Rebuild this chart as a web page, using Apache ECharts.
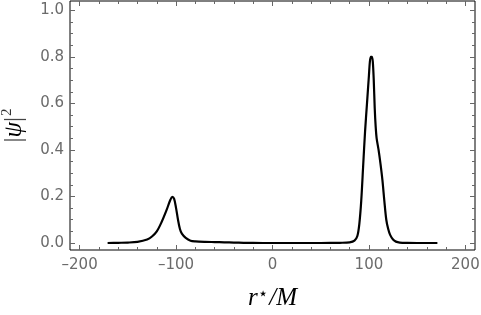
<!DOCTYPE html>
<html>
<head>
<meta charset="utf-8">
<script src="https://cdn.jsdelivr.net/npm/echarts@6/dist/echarts.min.js"></script>
<style>
  html, body { margin: 0; padding: 0; background: #fff; }
  #main { width: 481px; height: 315px; }
</style>
</head>
<body>
<div id="main"></div>
<script>
// tortoise coordinate r*/M
const rStar = [
  -171, -160, -150, -140, -130, -125, -120, -115, -110, -106, -104, -102,
  -100, -98, -96, -94, -90, -85, -80, -70, -60, -50, -40, -30, -20, 0,
  20, 40, 60, 70, 80, 85, 88, 90, 92, 94, 96, 98, 100, 101, 102, 103,
  104, 105, 106, 107, 108, 110, 112, 114, 116, 118, 120, 122, 125, 128,
  132, 140, 150, 160, 171
];
// |psi|^2
const psi2 = [
  0.0, 0.001, 0.002, 0.005, 0.015, 0.028, 0.05, 0.09, 0.14, 0.185, 0.198, 0.19,
  0.15, 0.1, 0.06, 0.04, 0.022, 0.01, 0.007, 0.005, 0.004, 0.003, 0.002, 0.001, 0.0005, 0.0,
  0.0, 0.0, 0.0005, 0.001, 0.003, 0.01, 0.03, 0.08, 0.18, 0.33, 0.48, 0.6, 0.72, 0.78, 0.80, 0.80,
  0.78, 0.7, 0.58, 0.5, 0.45, 0.4, 0.34, 0.27, 0.18, 0.1, 0.06, 0.035, 0.015, 0.006,
  0.002, 0.0005, 0.0, 0.0, 0.0
];

const xMajor = [-200, -100, 0, 100, 200];
const xMinor = [-180, -160, -140, -120, -80, -60, -40, -20, 20, 40, 60, 80, 120, 140, 160, 180];
const yMajor = [0, 0.2, 0.4, 0.6, 0.8, 1.0];
const yMinor = [0.05, 0.1, 0.15, 0.25, 0.3, 0.35, 0.45, 0.5, 0.55, 0.65, 0.7, 0.75, 0.85, 0.9, 0.95];

const chart = echarts.init(document.getElementById('main'));

const tickColor = '#666';
const labelStyle = { color: '#6b6b6b', fontSize: 15, fontFamily: 'DejaVu Sans' };

function xAx(pos, vals, len, labels) {
  return {
    type: 'value', position: pos, min: -210, max: 210,
    axisLine: { show: false, onZero: false }, splitLine: { show: false },
    axisTick: { show: true, inside: true, length: len, customValues: vals,
      lineStyle: { color: tickColor, width: 1 } },
    axisLabel: labels ? Object.assign({ customValues: xMajor, margin: 8,
      formatter: v => (v < 0 ? '\u2013' + Math.abs(v) : '' + v) }, labelStyle)
      : { show: false }
  };
}
function yAx(pos, vals, len, labels) {
  return {
    type: 'value', position: pos, min: -0.03, max: 1.04,
    axisLine: { show: false, onZero: false }, splitLine: { show: false },
    axisTick: { show: true, inside: true, length: len, customValues: vals,
      lineStyle: { color: tickColor, width: 1 } },
    axisLabel: labels ? Object.assign({ customValues: yMajor, margin: 6,
      formatter: v => v.toFixed(1) }, labelStyle) : { show: false }
  };
}

const xAxes = [
  xAx('bottom', xMajor, 5, true),
  xAx('bottom', xMinor, 3, false),
  xAx('top', xMajor, 5, false),
  xAx('top', xMinor, 3, false)
];
const yAxes = [
  yAx('left', yMajor, 5, true),
  yAx('left', yMinor, 3, false),
  yAx('right', yMajor, 5, false),
  yAx('right', yMinor, 3, false)
];

xAxes[0].name = '{i|r}{s|\u22C6}{i|/M}';
xAxes[0].nameLocation = 'middle';
xAxes[0].nameGap = 36;
xAxes[0].nameTextStyle = {
  rich: {
    i: { fontFamily: 'Liberation Serif', fontStyle: 'italic', fontSize: 25, color: '#000' },
    s: { fontFamily: 'DejaVu Sans', fontSize: 17, color: '#000', verticalAlign: 'top', padding: [0, 1, 8, 0] }
  }
};
yAxes[0].name = '{n||}{i|\u03C8}{n||}{s|2}';
yAxes[0].nameLocation = 'middle';
yAxes[0].nameRotate = 90;
yAxes[0].nameGap = 41;
yAxes[0].nameTextStyle = {
  rich: {
    n: { fontFamily: 'Liberation Serif', fontSize: 25, color: '#444' },
    i: { fontFamily: 'Liberation Serif', fontStyle: 'italic', fontSize: 25, color: '#000' },
    s: { fontFamily: 'Liberation Serif', fontSize: 15, color: '#333', verticalAlign: 'top', padding: [0, 0, 14, 1] }
  }
};

const option = {
  animation: false,
  grid: {
    left: 70, right: 6, top: 1, bottom: 65,
    outerBoundsMode: 'none', containLabel: false,
    show: true, borderColor: '#000', borderWidth: 1, backgroundColor: 'transparent'
  },
  xAxis: xAxes,
  yAxis: yAxes,
  series: [{
    type: 'line',
    data: rStar.map((r, i) => [r, psi2[i]]),
    smooth: 0.3,
    showSymbol: false,
    lineStyle: { color: '#000', width: 2.2 },
    z: 5
  }]
};

chart.setOption(option);
</script>
</body>
</html>
